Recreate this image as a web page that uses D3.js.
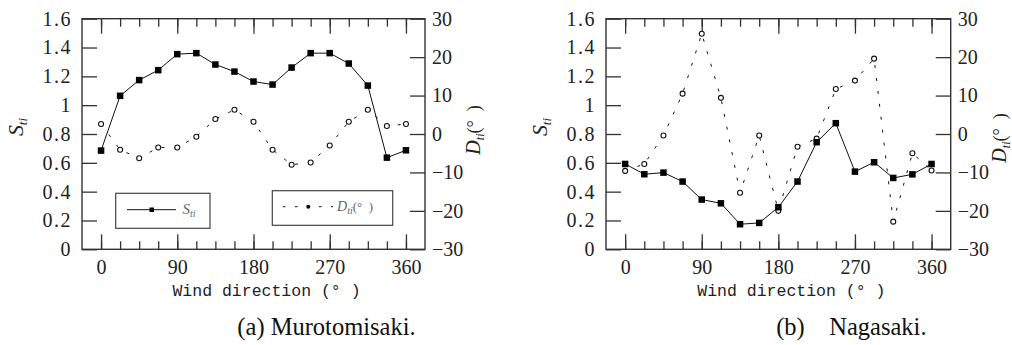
<!DOCTYPE html>
<html><head><meta charset="utf-8">
<script src="https://cdn.jsdelivr.net/npm/d3@7"></script>
<style>
html,body{margin:0;padding:0;background:#fff;}
svg{display:block;}
</style></head>
<body>
<svg id="chart" width="1012" height="345"></svg>
<script>
// ---- data ----
const directions = [0,22.5,45,67.5,90,112.5,135,157.5,180,202.5,225,247.5,270,292.5,315,337.5,360];
const stiMuro = [0.685,1.065,1.174,1.243,1.354,1.361,1.282,1.233,1.164,1.143,1.261,1.361,1.361,1.289,1.136,0.636,0.687];
const dtiMuro = [2.6,-4.1,-6.3,-3.5,-3.5,-0.7,3.9,6.3,3.2,-4.1,-8.0,-7.4,-3.0,3.2,6.3,2.1,2.6];
const stiNaga = [0.592,0.521,0.532,0.470,0.345,0.319,0.174,0.183,0.292,0.470,0.743,0.875,0.539,0.604,0.495,0.520,0.592];
const dtiNaga = [-9.6,-7.8,-0.4,10.5,26.1,9.4,-15.3,-0.4,-20.0,-3.3,-1.2,11.7,13.9,19.6,-22.8,-5.0,-9.5];
const sTicks = [0,0.2,0.4,0.6,0.8,1,1.2,1.4,1.6];
const sTickLabels = ["0","0.2","0.4","0.6","0.8","1","1.2","1.4","1.6"];
const dTicks = [-30,-20,-10,0,10,20,30];
const dTickLabels = ["\u221230","\u221220","\u221210","0","10","20","30"];
const xMajor = [0,90,180,270,360];
const xMinor = [0,22.5,45,67.5,90,112.5,135,157.5,180,202.5,225,247.5,270,292.5,315,337.5,360];
const xTitle = "Wind direction (\u00b0 )";
const captions = ["(a) Murotomisaki.", "(b)    Nagasaki."];

const svg = d3.select("#chart");
const axisColor = "#333";
const SERIF = '"Liberation Serif", "Times New Roman", serif';
const MONO = '"Liberation Mono", "DejaVu Sans Mono", monospace';

function panel(x0, x1, sti, dti, caption, legend, dLabelY){
  const top = 18.7, bottom = 249.3;
  const x = d3.scaleLinear().domain([-22.5, 382.5]).range([x0, x1]);
  const yS = d3.scaleLinear().domain([0, 1.6]).range([bottom, top]);
  const yD = d3.scaleLinear().domain([-30, 30]).range([bottom, top]);
  const g = svg.append("g");

  g.append("rect").attr("x", x0).attr("y", top).attr("width", x1 - x0).attr("height", bottom - top)
    .attr("fill", "none").attr("stroke", axisColor).attr("stroke-width", 1.4);

  function style(sel){
    sel.attr("font-family", null).attr("font-size", null);
    sel.select(".domain").remove();
    sel.selectAll("line").attr("stroke", axisColor).attr("stroke-width", 1.3);
    sel.selectAll("text").attr("fill", "#222").style("font-family", SERIF).style("font-size","20px");
  }
  g.append("g").attr("transform", `translate(${x0},0)`)
    .call(d3.axisLeft(yS).tickValues(sTicks).tickFormat((d,i)=>sTickLabels[i]).tickSizeInner(-15).tickSizeOuter(0).tickPadding(10))
    .call(style).call(s => s.selectAll("text").style("letter-spacing", "1.5px"));
  g.append("g").attr("transform", `translate(${x1},0)`)
    .call(d3.axisRight(yD).tickValues(dTicks).tickFormat((d,i)=>dTickLabels[i]).tickSizeInner(-15).tickSizeOuter(0).tickPadding(7))
    .call(style);
  g.append("g").attr("transform", `translate(0,${bottom})`)
    .call(d3.axisBottom(x).tickValues(xMinor).tickFormat("").tickSizeInner(-8).tickSizeOuter(0))
    .call(style);
  g.append("g").attr("transform", `translate(0,${bottom})`)
    .call(d3.axisBottom(x).tickValues(xMajor).tickFormat(d3.format("d")).tickSizeInner(-15).tickSizeOuter(0).tickPadding(11))
    .call(style);
  g.append("g").attr("transform", `translate(0,${top})`)
    .call(d3.axisTop(x).tickValues(xMinor).tickFormat("").tickSizeInner(-8).tickSizeOuter(0))
    .call(style);
  g.append("g").attr("transform", `translate(0,${top})`)
    .call(d3.axisTop(x).tickValues(xMajor).tickFormat("").tickSizeInner(-15).tickSizeOuter(0))
    .call(style);

  const dLine = d3.line().x((d,i)=>x(directions[i])).y(d=>yD(d));
  g.append("path").datum(dti).attr("d", dLine).attr("fill","none").attr("stroke","#111")
    .attr("stroke-width",1).attr("stroke-dasharray","3,10");
  const sLine = d3.line().x((d,i)=>x(directions[i])).y(d=>yS(d));
  g.append("path").datum(sti).attr("d", sLine).attr("fill","none").attr("stroke","#111").attr("stroke-width",1);
  g.selectAll(".dc").data(dti).enter().append("circle")
    .attr("cx",(d,i)=>x(directions[i])).attr("cy",d=>yD(d)).attr("r",2.5)
    .attr("fill","#fff").attr("stroke","#111").attr("stroke-width",1.1);
  const sq = 6.5;
  g.selectAll(".sq").data(sti).enter().append("rect")
    .attr("x",(d,i)=>x(directions[i])-sq/2).attr("y",d=>yS(d)-sq/2)
    .attr("width",sq).attr("height",sq).attr("fill","#000");

  const sl = g.append("text").style("font-family", SERIF).attr("transform", `translate(${x0-59},${127}) rotate(-90)`)
    .attr("text-anchor","middle").attr("fill","#222");
  sl.append("tspan").style("font-style","italic").style("font-size","22px").text("S");
  sl.append("tspan").style("font-style","italic").style("font-size","13px").attr("dy",4).text("ti");

  const dl = g.append("text").style("font-family", SERIF).attr("transform", `translate(${x1+55},${dLabelY}) rotate(-90)`)
    .attr("text-anchor","middle").attr("fill","#222");
  dl.append("tspan").style("font-style","italic").style("font-size","20px").text("D");
  dl.append("tspan").style("font-style","italic").style("font-size","12px").attr("dy",4).text("ti");
  dl.append("tspan").style("font-size","18px").attr("dy",-4).style("white-space","pre").text("(\u00b0  )");

  g.append("text").style("font-family", MONO).attr("x", x(180)+13).attr("y", 296).attr("text-anchor","middle")
    .style("font-size","16.5px").attr("fill","#222").style("white-space","pre").text(xTitle);

  g.append("text").style("font-family", SERIF).attr("x", x(180)+73).attr("y", 335).attr("text-anchor","middle")
    .style("font-size","24.5px").attr("fill","#111").style("white-space","pre").text(caption);

  if (legend){
    g.append("rect").attr("x",115.7).attr("y",193.3).attr("width",94.3).attr("height",35)
      .attr("fill","#fff").attr("stroke","#444").attr("stroke-width",1.2);
    g.append("line").attr("x1",127).attr("x2",176).attr("y1",209.7).attr("y2",209.7).attr("stroke","#111");
    g.append("rect").attr("x",149.5).attr("y",207.5).attr("width",4.5).attr("height",4.5).attr("fill","#000");
    const t1 = g.append("text").style("font-family", SERIF).attr("x",182.5).attr("y",213.5).attr("fill","#666");
    t1.append("tspan").style("font-style","italic").style("font-size","15px").text("S");
    t1.append("tspan").style("font-style","italic").style("font-size","10px").attr("dy",3).text("ti");
    g.append("rect").attr("x",272.3).attr("y",190.7).attr("width",120.4).attr("height",34.6)
      .attr("fill","#fff").attr("stroke","#444").attr("stroke-width",1.2);
    g.append("line").attr("x1",283).attr("x2",333).attr("y1",206.7).attr("y2",206.7).attr("stroke","#111")
      .attr("stroke-dasharray","2.5,9.5");
    g.append("circle").attr("cx",308.3).attr("cy",206.7).attr("r",2).attr("fill","#000");
    const t2 = g.append("text").style("font-family", SERIF).attr("x",337).attr("y",211).attr("fill","#666");
    t2.append("tspan").style("font-style","italic").style("font-size","14px").text("D");
    t2.append("tspan").style("font-style","italic").style("font-size","10px").attr("dy",3).text("ti");
    t2.append("tspan").style("font-size","13px").attr("dy",-3).style("white-space","pre").text("(\u00b0  )");
  }
}

panel(82, 425, stiMuro, dtiMuro, captions[0], true, 130);
panel(606, 950.7, stiNaga, dtiNaga, captions[1], false, 138);
</script>
</body></html>
